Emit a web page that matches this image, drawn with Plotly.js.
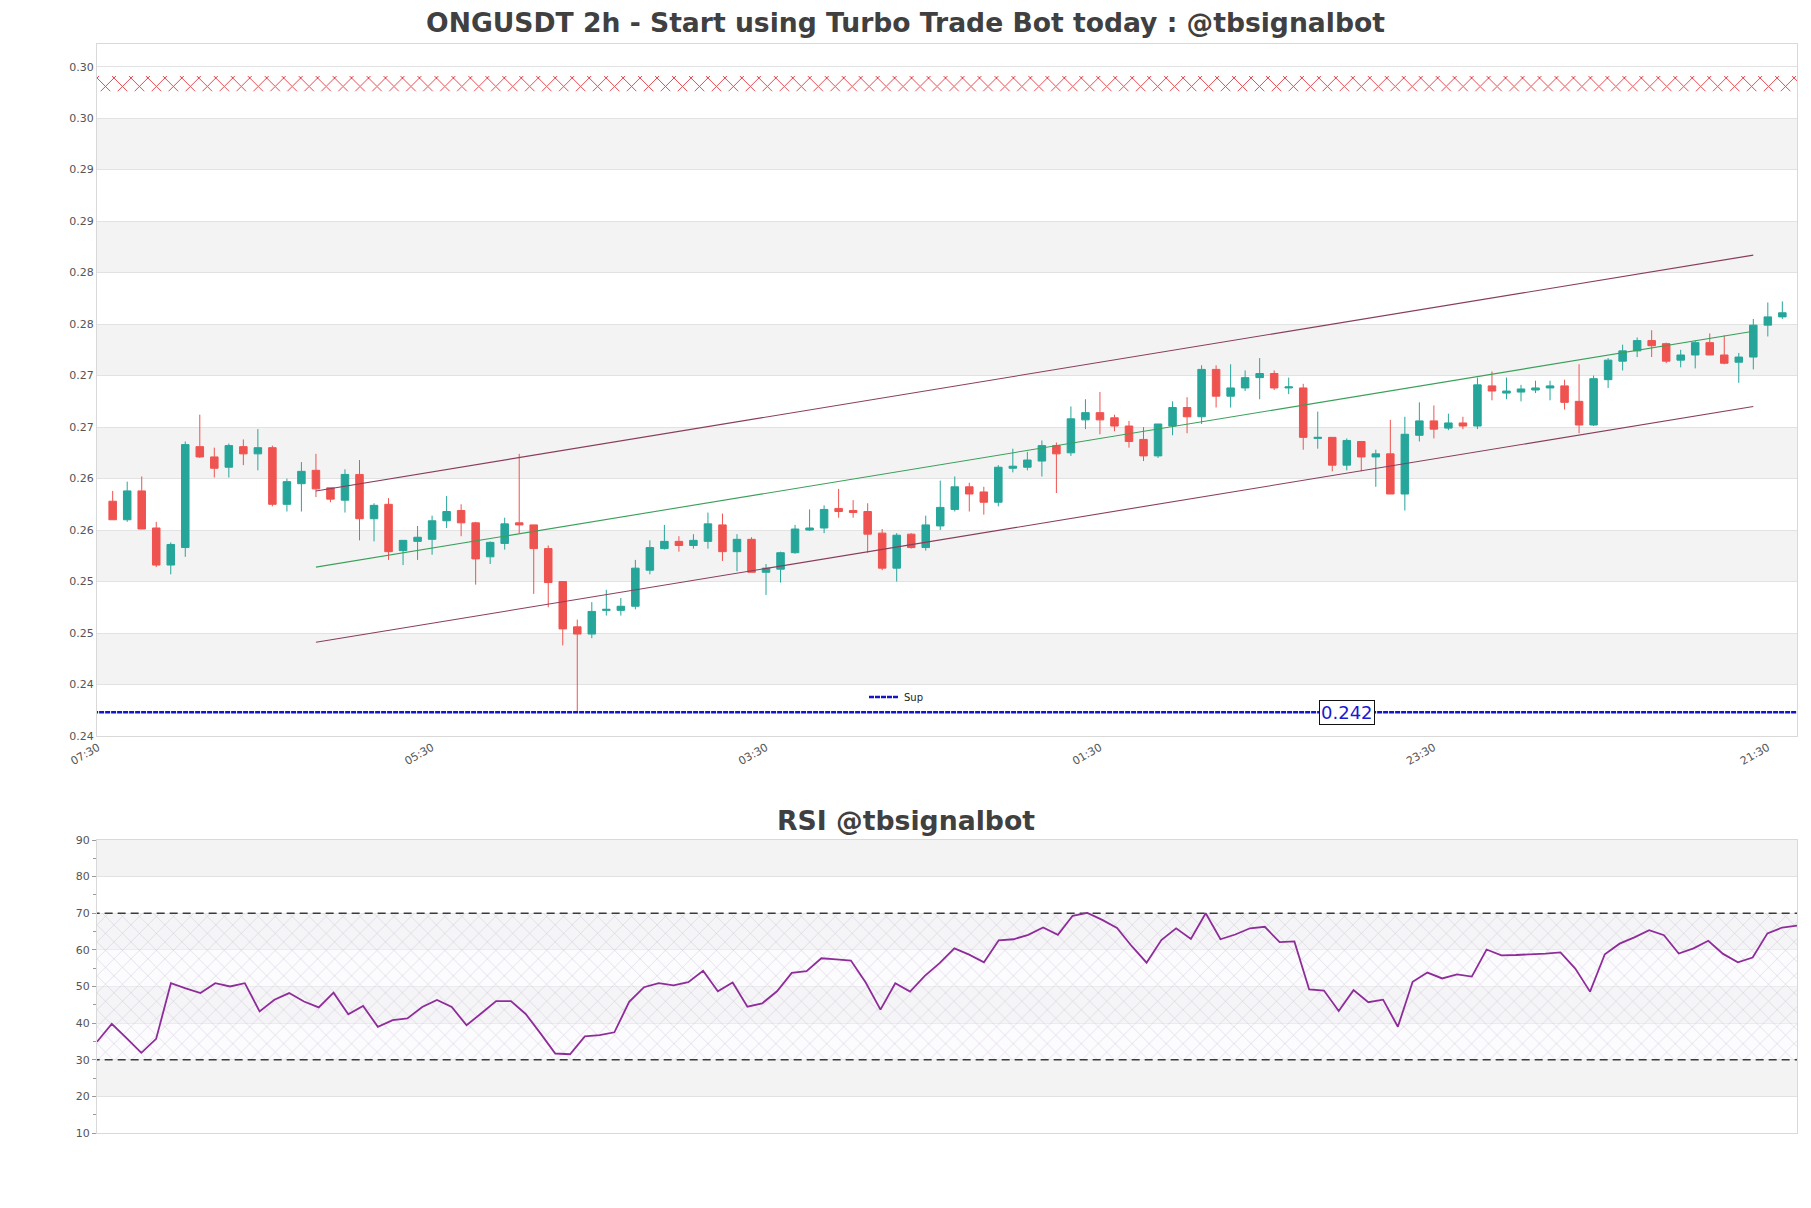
<!DOCTYPE html>
<html><head><meta charset="utf-8">
<script src="https://cdn.plot.ly/plotly-3.0.1.min.js"></script>
<style>html,body{margin:0;padding:0;background:#fff}#chart{width:1811px;height:1208px}</style>
</head><body><div id="chart"></div>
<script>
// ---- data ----
const openP = [0.2628,0.2610,0.2638,0.2602,0.2566,0.2583,0.2681,0.2671,0.2661,0.2681,
0.2674,0.2680,0.2625,0.2645,0.2658,0.2641,0.2629,0.2654,0.2611,0.2625,
0.2580,0.2589,0.2591,0.2609,0.2619,0.2607,0.2574,0.2587,0.2607,0.2605,
0.2582,0.2550,0.2506,0.2499,0.2522,0.2522,0.2526,0.2561,0.2582,0.2589,
0.2585,0.2589,0.2605,0.2579,0.2591,0.2559,0.2562,0.2578,0.2600,0.2602,
0.2621,0.2619,0.2618,0.2597,0.2563,0.2596,0.2583,0.2604,0.2620,0.2642,
0.2637,0.2627,0.2660,0.2661,0.2667,0.2682,0.2675,0.2707,0.2714,0.2709,
0.2701,0.2688,0.2672,0.2701,0.2719,0.2710,0.2756,0.2730,0.2738,0.2748,
0.2752,0.2738,0.2738,0.2689,0.2690,0.2663,0.2686,0.2671,0.2674,0.2635,
0.2692,0.2706,0.2699,0.2704,0.2701,0.2740,0.2733,0.2734,0.2736,0.2738,
0.2740,0.2725,0.2702,0.2746,0.2764,0.2774,0.2784,0.2781,0.2765,0.2770,
0.2782,0.2770,0.2763,0.2768,0.2799,0.2807];
const highP = [0.2638,0.2647,0.2652,0.2608,0.2588,0.2686,0.2712,0.2680,0.2684,0.2688,
0.2698,0.2682,0.2650,0.2666,0.2674,0.2641,0.2659,0.2668,0.2626,0.2631,
0.2590,0.2604,0.2614,0.2633,0.2625,0.2608,0.2589,0.2612,0.2674,0.2605,
0.2585,0.2550,0.2513,0.2530,0.2542,0.2534,0.2571,0.2590,0.2605,0.2594,
0.2596,0.2617,0.2616,0.2596,0.2593,0.2567,0.2579,0.2605,0.2620,0.2624,
0.2640,0.2629,0.2626,0.2601,0.2597,0.2597,0.2614,0.2648,0.2652,0.2646,
0.2642,0.2663,0.2679,0.2676,0.2687,0.2685,0.2720,0.2727,0.2734,0.2712,
0.2706,0.2700,0.2703,0.2725,0.2729,0.2760,0.2760,0.2761,0.2755,0.2767,
0.2755,0.2748,0.2742,0.2715,0.2690,0.2689,0.2686,0.2678,0.2707,0.2710,
0.2724,0.2721,0.2713,0.2710,0.2748,0.2754,0.2748,0.2741,0.2745,0.2745,
0.2746,0.2761,0.2750,0.2767,0.2780,0.2787,0.2794,0.2782,0.2775,0.2784,
0.2791,0.2789,0.2772,0.2805,0.2821,0.2822];
const lowP = [0.2610,0.2608,0.2601,0.2564,0.2557,0.2574,0.2670,0.2651,0.2651,0.2663,
0.2658,0.2623,0.2618,0.2618,0.2632,0.2627,0.2617,0.2590,0.2589,0.2571,
0.2566,0.2571,0.2576,0.2602,0.2594,0.2547,0.2567,0.2581,0.2597,0.2538,
0.2525,0.2488,0.2424,0.2495,0.2517,0.2517,0.2523,0.2557,0.2581,0.2579,
0.2582,0.2582,0.2570,0.2560,0.2559,0.2537,0.2549,0.2577,0.2599,0.2597,
0.2612,0.2612,0.2578,0.2561,0.2550,0.2582,0.2580,0.2600,0.2618,0.2618,
0.2615,0.2623,0.2656,0.2658,0.2652,0.2636,0.2672,0.2698,0.2693,0.2696,
0.2680,0.2667,0.2670,0.2692,0.2694,0.2703,0.2719,0.2719,0.2735,0.2727,
0.2736,0.2732,0.2678,0.2679,0.2657,0.2658,0.2657,0.2642,0.2635,0.2619,
0.2686,0.2689,0.2697,0.2698,0.2698,0.2726,0.2727,0.2725,0.2733,0.2726,
0.2717,0.2694,0.2701,0.2738,0.2755,0.2768,0.2768,0.2762,0.2758,0.2757,
0.2770,0.2761,0.2743,0.2756,0.2788,0.2805];
const closeP = [0.2610,0.2638,0.2601,0.2566,0.2586,0.2683,0.2671,0.2660,0.2682,0.2674,
0.2680,0.2625,0.2647,0.2657,0.2640,0.2630,0.2654,0.2611,0.2624,0.2579,
0.2590,0.2593,0.2609,0.2618,0.2607,0.2572,0.2588,0.2606,0.2605,0.2582,
0.2549,0.2504,0.2499,0.2521,0.2523,0.2526,0.2563,0.2583,0.2589,0.2585,
0.2590,0.2606,0.2579,0.2591,0.2559,0.2563,0.2578,0.2601,0.2602,0.2620,
0.2618,0.2617,0.2596,0.2563,0.2595,0.2583,0.2605,0.2622,0.2642,0.2635,
0.2627,0.2661,0.2662,0.2668,0.2682,0.2674,0.2708,0.2714,0.2707,0.2701,
0.2686,0.2672,0.2703,0.2719,0.2710,0.2756,0.2730,0.2738,0.2748,0.2752,
0.2738,0.2739,0.2690,0.2690,0.2663,0.2687,0.2671,0.2674,0.2635,0.2693,
0.2706,0.2698,0.2704,0.2701,0.2741,0.2735,0.2735,0.2737,0.2738,0.2740,
0.2724,0.2702,0.2747,0.2765,0.2774,0.2784,0.2779,0.2764,0.2770,0.2782,
0.2770,0.2762,0.2768,0.2799,0.2807,0.2811];
const rsiValues = [34.9,39.8,35.9,31.9,35.7,50.9,49.5,48.2,50.9,50.0,
50.9,43.2,46.4,48.2,45.9,44.3,48.3,42.4,44.7,39.0,
40.8,41.3,44.4,46.3,44.4,39.4,42.7,46.0,46.0,42.5,
37.2,31.7,31.5,36.4,36.7,37.5,45.8,49.8,50.9,50.3,
51.2,54.3,48.7,51.1,44.5,45.4,48.7,53.7,54.2,57.7,
57.4,57.1,51.1,43.7,50.9,48.6,52.9,56.4,60.4,58.7,
56.6,62.6,62.9,64.1,66.1,64.1,69.3,70.1,68.2,66.0,
61.0,56.5,62.7,65.9,63.0,70.0,62.9,64.2,65.9,66.3,
62.1,62.3,49.2,48.9,43.3,49.0,45.7,46.4,39.0,51.3,
53.8,52.2,53.3,52.7,60.1,58.5,58.6,58.7,59.0,59.3,
54.9,48.6,58.8,61.7,63.4,65.4,64.0,59.0,60.4,62.5,
58.9,56.6,57.9,64.5,66.1,66.6];
const supportLevel = 0.2423;
const supportName = 'Sup';
const resistZone = [0.3026, 0.3041];
const channelIdx = [15, 114];
const channelUpper = [0.2638, 0.2867];
const channelMid = [0.2564, 0.2793];
const channelLower = [0.2491, 0.2720];
const yTickVals = [0.240,0.245,0.250,0.255,0.260,0.265,0.270,0.275,0.280,0.285,0.290,0.295,0.300,0.305];
const yTickText = ['0.24','0.24','0.25','0.25','0.26','0.26','0.27','0.27','0.28','0.28','0.29','0.29','0.30','0.30'];
const xTickIdx = [0, 23, 46, 69, 92, 115];
const rsiTickVals = [10,20,30,40,50,60,70,80,90];
const rsiLevels = [30, 70];
const mainTitle = 'ONGUSDT 2h - Start using Turbo Trade Bot today : @tbsignalbot';
const rsiTitle = 'RSI @tbsignalbot';

// ---- time index (2h candles, first tick 07:30) ----
const startMs = Date.UTC(2024, 0, 1, 7, 30);
const stepMs = 2 * 3600 * 1000;
function t(i) { return new Date(startMs + i * stepMs).toISOString().replace('T', ' ').replace('Z', ''); }
const times = openP.map((_, i) => t(i + 1));

const W = 1811, H = 1208;
const xDom = [97 / W, 1797 / W];
const mainDom = [1 - 736 / H, 1 - 44 / H];
const rsiDom = [1 - 1133 / H, 1 - 840 / H];

const traces = [];
traces.push({
  type: 'candlestick', x: times, open: openP, high: highP, low: lowP, close: closeP,
  increasing: { line: { color: '#26a69a', width: 1 }, fillcolor: '#26a69a' },
  decreasing: { line: { color: '#ef5350', width: 1 }, fillcolor: '#ef5350' },
  showlegend: false, hoverinfo: 'skip', xaxis: 'x', yaxis: 'y'
});
// resistance zone (hatched)
traces.push({ type: 'scatter', mode: 'lines', x: [t(-2), t(119)], y: [resistZone[0], resistZone[0]],
  line: { width: 0, color: 'rgba(0,0,0,0)' }, showlegend: false, hoverinfo: 'skip', xaxis: 'x', yaxis: 'y' });
traces.push({ type: 'scatter', mode: 'lines', x: [t(-2), t(119)], y: [resistZone[1], resistZone[1]],
  line: { width: 0, color: 'rgba(0,0,0,0)' }, fill: 'tonexty', fillcolor: 'rgba(0,0,0,0)',
  fillpattern: { shape: 'x', fgcolor: '#e8383f', bgcolor: 'rgba(255,255,255,0)', size: 12, solidity: 0.15 },
  showlegend: false, hoverinfo: 'skip', xaxis: 'x', yaxis: 'y' });
// channel lines
[[channelUpper, '#8a3d5c'], [channelMid, '#3aa05a'], [channelLower, '#8a3d5c']].forEach(([vals, col]) => {
  traces.push({ type: 'scatter', mode: 'lines', x: [t(channelIdx[0]), t(channelIdx[1])], y: vals,
    line: { color: col, width: 1.1 }, showlegend: false, hoverinfo: 'skip', xaxis: 'x', yaxis: 'y' });
});
// support line
traces.push({ type: 'scatter', mode: 'lines', name: supportName, x: [t(-2), t(119)], y: [supportLevel, supportLevel],
  line: { color: '#1414c8', width: 2.5, dash: '5px,1px' }, showlegend: true, hoverinfo: 'skip', xaxis: 'x', yaxis: 'y' });
// RSI levels with hatched band
traces.push({ type: 'scatter', mode: 'lines', x: [t(-2), t(119)], y: [rsiLevels[0], rsiLevels[0]],
  line: { color: '#3a3a3a', width: 1.3, dash: '8px,5px' }, showlegend: false, hoverinfo: 'skip', xaxis: 'x2', yaxis: 'y2' });
traces.push({ type: 'scatter', mode: 'lines', x: [t(-2), t(119)], y: [rsiLevels[1], rsiLevels[1]],
  line: { color: '#3a3a3a', width: 1.3, dash: '8px,5px' }, fill: 'tonexty', fillcolor: 'rgba(0,0,0,0)',
  fillpattern: { shape: 'x', fgcolor: 'rgba(150,140,172,0.5)', bgcolor: 'rgba(248,246,250,0.45)', size: 12, solidity: 0.07 },
  showlegend: false, hoverinfo: 'skip', xaxis: 'x2', yaxis: 'y2' });
// RSI line
traces.push({ type: 'scatter', mode: 'lines', x: times, y: rsiValues,
  line: { color: '#8e2c9a', width: 1.8 }, showlegend: false, hoverinfo: 'skip', xaxis: 'x2', yaxis: 'y2' });

// alternating bands
const shapes = [];
for (let k = 1; k < yTickVals.length - 1; k += 2) {
  shapes.push({ type: 'rect', xref: 'x domain', yref: 'y', x0: 0, x1: 1, y0: yTickVals[k], y1: yTickVals[k + 1],
    fillcolor: '#f3f3f3', line: { width: 0 }, layer: 'below' });
}
for (let k = 1; k < rsiTickVals.length - 1; k += 2) {
  shapes.push({ type: 'rect', xref: 'x2 domain', yref: 'y2', x0: 0, x1: 1, y0: rsiTickVals[k], y1: rsiTickVals[k + 1],
    fillcolor: '#f3f3f3', line: { width: 0 }, layer: 'below' });
}

const axisLine = '#d9d9d9';
const tickFont = { family: 'DejaVu Sans', size: 11, color: '#555555' };
const layout = {
  width: W, height: H, autosize: false,
  margin: { l: 0, r: 0, t: 0, b: 0, pad: 0 },
  paper_bgcolor: '#ffffff', plot_bgcolor: '#ffffff',
  font: { family: 'DejaVu Sans', color: '#444444' },
  hovermode: false, boxgap: 0.26,
  title: { text: '<b>' + mainTitle + '</b>', font: { family: 'DejaVu Sans', size: 26.6, color: '#404040' },
    xref: 'container', yref: 'container', x: 0.5, xanchor: 'center', y: 1 - 23 / H, yanchor: 'middle' },
  showlegend: true,
  legend: { x: 864 / W, xanchor: 'left', y: 1 - 697 / H, yanchor: 'middle', bgcolor: 'rgba(0,0,0,0)',
    borderwidth: 0, itemwidth: 30, font: { family: 'DejaVu Sans', size: 10, color: '#222' } },
  xaxis: {
    domain: xDom, anchor: 'y', type: 'date', range: [t(-0.08), t(117.01)],
    rangeslider: { visible: false }, showgrid: false, zeroline: false,
    tickmode: 'array', tickvals: xTickIdx.map(i => t(i)), tickformat: '%H:%M', tickangle: -30,
    tickfont: tickFont, ticks: '', showline: true, mirror: true, linecolor: axisLine, linewidth: 1, automargin: false
  },
  yaxis: {
    domain: mainDom, anchor: 'x', range: [0.24, 0.3072], tickmode: 'array', tickvals: yTickVals, ticktext: yTickText,
    gridcolor: '#e2e2e2', gridwidth: 1, zeroline: false, tickfont: tickFont, ticks: '',
    showline: true, mirror: true, linecolor: axisLine, linewidth: 1, automargin: false
  },
  xaxis2: {
    domain: xDom, anchor: 'y2', type: 'date', range: [times[0], times[times.length - 1]],
    showticklabels: false, showgrid: false, zeroline: false, ticks: '',
    showline: true, mirror: true, linecolor: axisLine, linewidth: 1, automargin: false
  },
  yaxis2: {
    domain: rsiDom, anchor: 'x2', range: [10, 90], tickmode: 'array', tickvals: rsiTickVals,
    gridcolor: '#e2e2e2', gridwidth: 1, zeroline: false, tickfont: tickFont,
    ticks: 'outside', ticklen: 4, tickcolor: '#9a9a9a', tickwidth: 1,
    minor: { ticks: 'outside', ticklen: 3, dtick: 5, tick0: 5, tickcolor: '#9a9a9a', showgrid: false },
    showline: true, mirror: true, linecolor: axisLine, linewidth: 1, automargin: false
  },
  shapes: shapes,
  annotations: [
    { text: '<b>' + rsiTitle + '</b>', xref: 'paper', yref: 'paper', x: 0.5, y: 1 - 820 / H,
      xanchor: 'center', yanchor: 'middle', showarrow: false,
      font: { family: 'DejaVu Sans', size: 26.7, color: '#404040' } },
    { text: supportLevel.toFixed(3), xref: 'x', yref: 'y', x: t(86), y: supportLevel,
      xanchor: 'center', yanchor: 'middle', showarrow: false, bgcolor: '#ffffff', bordercolor: '#111111',
      borderwidth: 1, borderpad: 1, font: { family: 'DejaVu Sans', size: 18, color: '#1a1ad0' } }
  ]
};

Plotly.newPlot('chart', traces, layout, { staticPlot: true, displayModeBar: false });
</script>
</body></html>
